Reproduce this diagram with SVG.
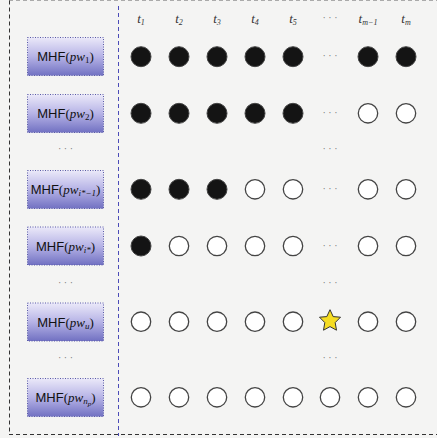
<svg xmlns="http://www.w3.org/2000/svg" width="437" height="438" viewBox="0 0 437 438">
<defs>
<linearGradient id="g" x1="0" y1="0" x2="0" y2="1">
<stop offset="0" stop-color="#ebe9f9"/>
<stop offset="0.5" stop-color="#b6b3e6"/>
<stop offset="1" stop-color="#7171c2"/>
</linearGradient>
<style>
.box{fill:url(#g);stroke:#5a5aa8;stroke-width:1;stroke-dasharray:1 1.5}
.lab{font-family:"Liberation Sans",sans-serif;font-size:13px;fill:#111}
.m{font-family:"Liberation Serif",serif;font-style:italic}
.p{font-family:"Liberation Serif",serif}
.hd{font-family:"Liberation Serif",serif;font-style:italic;font-size:13px;fill:#333}
.full{fill:#141414;stroke:#444;stroke-width:1}
.empty{fill:#fff;stroke:#444;stroke-width:1.3}
.dots{font-family:"Liberation Serif",serif;font-size:10px;fill:#777;font-style:normal}
</style>
</defs>
<rect width="437" height="438" fill="#f4f4f3"/>
<g id="frame" fill="none" stroke-width="1" stroke-dasharray="4 3">
<line x1="9" y1="0.5" x2="437" y2="0.5" stroke="#aaa"/>
<line x1="9.5" y1="0.5" x2="9.5" y2="435" stroke="#333"/>
<line x1="9" y1="434.5" x2="437" y2="434.5" stroke="#333"/>
</g>
<g id="connectors">
<line x1="118.5" y1="6" x2="118.5" y2="436" stroke="#4b4bb8" stroke-width="1" stroke-dasharray="4 3"/>
</g>
<g id="header" class="hd">
<text x="141" y="23" text-anchor="middle">t<tspan font-size="8" dy="2">1</tspan></text>
<text x="179" y="23" text-anchor="middle">t<tspan font-size="8" dy="2">2</tspan></text>
<text x="217" y="23" text-anchor="middle">t<tspan font-size="8" dy="2">3</tspan></text>
<text x="255" y="23" text-anchor="middle">t<tspan font-size="8" dy="2">4</tspan></text>
<text x="293" y="23" text-anchor="middle">t<tspan font-size="8" dy="2">5</tspan></text>
<text x="330" y="21" text-anchor="middle" class="dots">· · ·</text>
<text x="368" y="23" text-anchor="middle">t<tspan font-size="8" dy="2">m−1</tspan></text>
<text x="406" y="23" text-anchor="middle">t<tspan font-size="8" dy="2">m</tspan></text>
</g>
<g id="node1"><rect class="box" x="27.5" y="37.5" width="76" height="38"/>
<text class="lab" x="65.5" y="61" text-anchor="middle">MHF<tspan class="p">(</tspan><tspan class="m">pw</tspan><tspan class="p" font-size="9" dy="2">1</tspan><tspan class="p" dy="-2">)</tspan></text></g>
<g id="node2"><rect class="box" x="27.5" y="94.5" width="76" height="38"/>
<text class="lab" x="65.5" y="118" text-anchor="middle">MHF<tspan class="p">(</tspan><tspan class="m">pw</tspan><tspan class="p" font-size="9" dy="2">2</tspan><tspan class="p" dy="-2">)</tspan></text></g>
<g id="node3"><rect class="box" x="27.5" y="170.5" width="76" height="38"/>
<text class="lab" x="65.5" y="194" text-anchor="middle">MHF<tspan class="p">(</tspan><tspan class="m">pw</tspan><tspan class="m" font-size="9" dy="2">i*−1</tspan><tspan class="p" dy="-2">)</tspan></text></g>
<g id="node4"><rect class="box" x="27.5" y="227" width="76" height="38"/>
<text class="lab" x="65.5" y="250.5" text-anchor="middle">MHF<tspan class="p">(</tspan><tspan class="m">pw</tspan><tspan class="m" font-size="9" dy="2">i*</tspan><tspan class="p" dy="-2">)</tspan></text></g>
<g id="node5"><rect class="box" x="27.5" y="303" width="76" height="38"/>
<text class="lab" x="65.5" y="326.5" text-anchor="middle">MHF<tspan class="p">(</tspan><tspan class="m">pw</tspan><tspan class="m" font-size="9" dy="2">u</tspan><tspan class="p" dy="-2">)</tspan></text></g>
<g id="node6"><rect class="box" x="27.5" y="378.5" width="76" height="38"/>
<text class="lab" x="65.5" y="402" text-anchor="middle">MHF<tspan class="p">(</tspan><tspan class="m">pw</tspan><tspan class="m" font-size="9" dy="2">n<tspan font-size="7" dy="1.5">p</tspan></tspan><tspan class="p" dy="-3.5">)</tspan></text></g>
<g id="rowdots" class="dots" text-anchor="middle">
<text x="65.5" y="152">· · ·</text>
<text x="65.5" y="286">· · ·</text>
<text x="65.5" y="361">· · ·</text>
<text x="330" y="152">· · ·</text>
<text x="330" y="286">· · ·</text>
<text x="330" y="361">· · ·</text>
<text x="330" y="59">· · ·</text>
<text x="330" y="116">· · ·</text>
<text x="330" y="192">· · ·</text>
<text x="330" y="249">· · ·</text>
</g>
<g id="row1">
<circle class="full" cx="141" cy="56.7" r="10"/><circle class="full" cx="179" cy="56.7" r="10"/><circle class="full" cx="217" cy="56.7" r="10"/><circle class="full" cx="255" cy="56.7" r="10"/><circle class="full" cx="293" cy="56.7" r="10"/><circle class="full" cx="368" cy="56.7" r="10"/><circle class="full" cx="406" cy="56.7" r="10"/>
</g>
<g id="row2">
<circle class="full" cx="141" cy="113.3" r="10"/><circle class="full" cx="179" cy="113.3" r="10"/><circle class="full" cx="217" cy="113.3" r="10"/><circle class="full" cx="255" cy="113.3" r="10"/><circle class="full" cx="293" cy="113.3" r="10"/><circle class="empty" cx="368" cy="113.3" r="9.7"/><circle class="empty" cx="406" cy="113.3" r="9.7"/>
</g>
<g id="row3">
<circle class="full" cx="141" cy="189.3" r="10"/><circle class="full" cx="179" cy="189.3" r="10"/><circle class="full" cx="217" cy="189.3" r="10"/><circle class="empty" cx="255" cy="189.3" r="9.7"/><circle class="empty" cx="293" cy="189.3" r="9.7"/><circle class="empty" cx="368" cy="189.3" r="9.7"/><circle class="empty" cx="406" cy="189.3" r="9.7"/>
</g>
<g id="row4">
<circle class="full" cx="141" cy="246" r="10"/><circle class="empty" cx="179" cy="246" r="9.7"/><circle class="empty" cx="217" cy="246" r="9.7"/><circle class="empty" cx="255" cy="246" r="9.7"/><circle class="empty" cx="293" cy="246" r="9.7"/><circle class="empty" cx="368" cy="246" r="9.7"/><circle class="empty" cx="406" cy="246" r="9.7"/>
</g>
<g id="row5">
<circle class="empty" cx="141" cy="321.7" r="9.7"/><circle class="empty" cx="179" cy="321.7" r="9.7"/><circle class="empty" cx="217" cy="321.7" r="9.7"/><circle class="empty" cx="255" cy="321.7" r="9.7"/><circle class="empty" cx="293" cy="321.7" r="9.7"/>
<polygon points="330,309.7 333.2,316.6 340.5,317.2 335.2,322.6 336.5,330.2 330,326.6 323.5,330.2 324.8,322.6 319.5,317.2 326.8,316.6" fill="#f5dc22" stroke="#333" stroke-width="1" stroke-linejoin="round"/>
<circle class="empty" cx="368" cy="321.7" r="9.7"/><circle class="empty" cx="406" cy="321.7" r="9.7"/>
</g>
<g id="row6">
<circle class="empty" cx="141" cy="397.3" r="9.7"/><circle class="empty" cx="179" cy="397.3" r="9.7"/><circle class="empty" cx="217" cy="397.3" r="9.7"/><circle class="empty" cx="255" cy="397.3" r="9.7"/><circle class="empty" cx="293" cy="397.3" r="9.7"/><circle class="empty" cx="330" cy="397.3" r="9.7"/><circle class="empty" cx="368" cy="397.3" r="9.7"/><circle class="empty" cx="406" cy="397.3" r="9.7"/>
</g>
</svg>
